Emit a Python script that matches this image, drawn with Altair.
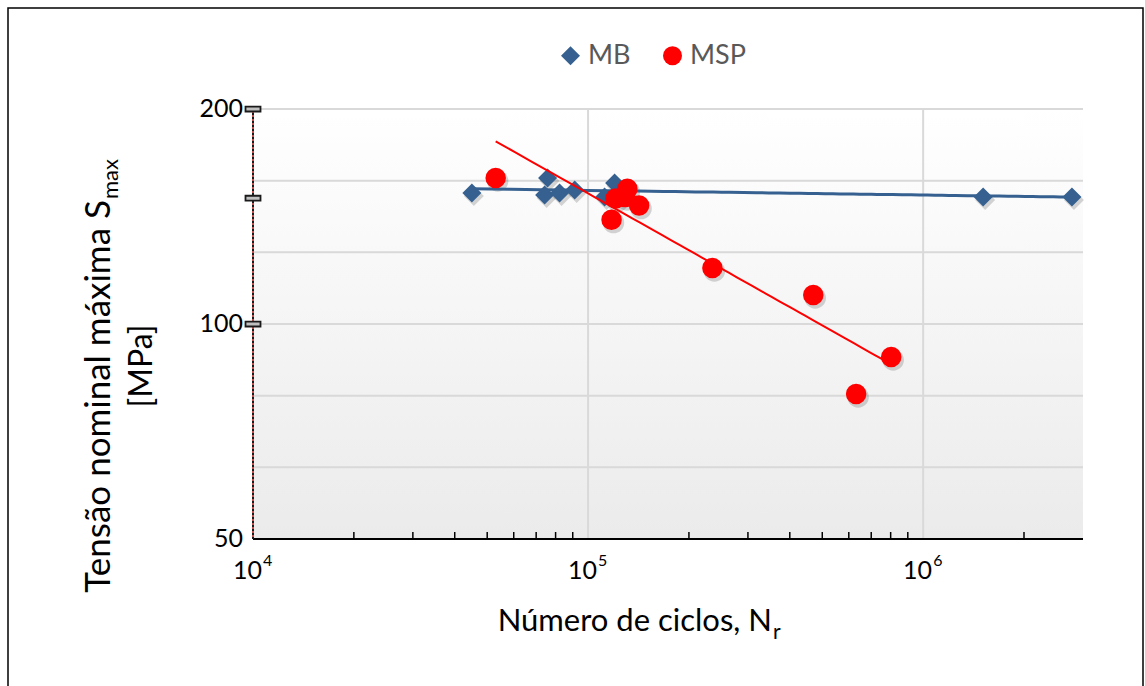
import altair as alt
import pandas as pd

# Ensaios de fadiga: número de ciclos até à rotura e tensão máxima (MPa)
mb_ciclos = [45000, 75700, 74200, 82200, 91200, 120000, 112000, 1510000, 2780000]
mb_tensao = [152.6, 160.1, 151.6, 152.6, 154.0, 157.5, 150.6, 150.6, 150.6]
msp_ciclos = [53000, 117500, 120800, 129000, 131000, 142000, 235000, 470000, 803000, 631000]
msp_tensao = [160.1, 140.0, 149.9, 150.6, 154.6, 146.5, 119.8, 109.8, 89.9, 79.8]

series = ["MB", "MSP"]
series_colors = ["#35608f", "#ff0000"]
series_shapes = ["diamond", "circle"]

# Eixos
x_domain = [1e4, 3e6]
y_domain = [50, 200]
y_grid = [50, 63.0, 79.37, 100, 125.99, 158.74, 200]
y_labels = [50, 100, 200]
y_marks = [100, 150, 200]
x_grid = [1e5, 1e6]
x_minor = [2e4, 3e4, 4e4, 5e4, 6e4, 7e4, 8e4, 9e4,
           2e5, 3e5, 4e5, 5e5, 6e5, 7e5, 8e5, 9e5, 2e6]
decades = [1e4, 1e5, 1e6]
exponents = ["4", "5", "6"]

FONT = "Lato"
W, H = 830, 430
LEFT, TOP = 253, 109

df = pd.DataFrame({
    "N": mb_ciclos + msp_ciclos,
    "S": mb_tensao + msp_tensao,
    "serie": ["MB"] * len(mb_ciclos) + ["MSP"] * len(msp_ciclos),
})

xs = alt.Scale(type="log", domain=x_domain, nice=False)
ys = alt.Scale(type="log", domain=y_domain, nice=False)
X = alt.X("N:Q", scale=xs, axis=None)
Y = alt.Y("S:Q", scale=ys, axis=None)
one = pd.DataFrame({"k": [0]})

# Fundo da área do gráfico em gradiente
background = alt.Chart(one).mark_rect(
    color=alt.Gradient(
        gradient="linear",
        stops=[alt.GradientStop(color="#ffffff", offset=0),
               alt.GradientStop(color="#ebebeb", offset=1)],
        x1=0, x2=0, y1=0, y2=1,
    )
).encode(x=alt.value(0), x2=alt.value(W), y=alt.value(0), y2=alt.value(H))

hgrid = alt.Chart(pd.DataFrame({"S": y_grid})).mark_rule(
    color="#d9d9d9", strokeWidth=2
).encode(y=Y, x=alt.value(0), x2=alt.value(W))

vgrid = alt.Chart(pd.DataFrame({"N": x_grid})).mark_rule(
    color="#d9d9d9", strokeWidth=2
).encode(x=X, y=alt.value(0), y2=alt.value(H))

x_line = alt.Chart(one).mark_rule(color="#000000", strokeWidth=2).encode(
    x=alt.value(0), x2=alt.value(W), y=alt.value(H))

minor = alt.Chart(pd.DataFrame({"N": x_minor})).mark_rule(
    color="#000000", strokeWidth=1.5
).encode(x=X, y=alt.value(H - 7), y2=alt.value(H))

y_line_red = alt.Chart(one).mark_rule(color="#c0504d", strokeWidth=2).encode(
    x=alt.value(0), y=alt.value(0), y2=alt.value(H))
y_line_dash = alt.Chart(one).mark_rule(
    color="#1a1a1a", strokeWidth=2, strokeDash=[2, 2]
).encode(x=alt.value(0), y=alt.value(0), y2=alt.value(H))

y_blocks = alt.Chart(pd.DataFrame({"S": y_marks})).mark_point(
    shape="M-1,-0.33L1,-0.33L1,0.33L-1,0.33Z",
    filled=True, fill="#bfbfbf", stroke="#1a1a1a", strokeWidth=1.8,
    size=225, opacity=1,
).encode(y=Y, x=alt.value(0))

y_text = alt.Chart(pd.DataFrame({"S": y_labels})).mark_text(
    align="right", baseline="middle", font=FONT, fontSize=25, color="#000000", dx=-10
).encode(y=Y, x=alt.value(0), text=alt.Text("S:Q", format="d"))

dec_df = pd.DataFrame({"N": decades, "exp": exponents, "base": ["10"] * 3})
x_text = alt.Chart(dec_df).mark_text(
    align="right", baseline="alphabetic", font=FONT, fontSize=25, color="#000000", dx=9
).encode(x=X, y=alt.value(H + 40), text="base:N")
x_exp = alt.Chart(dec_df).mark_text(
    align="left", baseline="alphabetic", font=FONT, fontSize=16, color="#000000", dx=10
).encode(x=X, y=alt.value(H + 27), text="exp:N")


def shadow(name, shape, size):
    return alt.Chart(df).transform_filter(alt.datum.serie == name).mark_point(
        shape=shape, filled=True, color="#000000", opacity=0.16, size=size,
        xOffset=2, yOffset=3, strokeWidth=0,
    ).encode(x=X, y=Y)


def points(name, size):
    return alt.Chart(df).transform_filter(alt.datum.serie == name).mark_point(
        filled=True, opacity=1, size=size, strokeWidth=0
    ).encode(
        x=X, y=Y,
        color=alt.Color("serie:N", scale=alt.Scale(domain=series, range=series_colors),
                        legend=alt.Legend(
                            title=None, orient="none", direction="horizontal",
                            legendX=304, legendY=-67, padding=0,
                            labelFont=FONT, labelFontSize=27, labelColor="#595959",
                            symbolSize=360, symbolStrokeWidth=0, symbolOpacity=1,
                            labelOffset=4, columnPadding=28,
                        )),
        shape=alt.Shape("serie:N", scale=alt.Scale(domain=series, range=series_shapes)),
    )


def trend(name, color, width):
    return alt.Chart(df).transform_filter(alt.datum.serie == name).transform_regression(
        "N", "S", method="pow"
    ).mark_line(color=color, strokeWidth=width).encode(x=X, y=Y)


frame = alt.Chart(one).mark_rect(
    fillOpacity=0, stroke="#000000", strokeWidth=1.5
).encode(x=alt.value(8 - LEFT), x2=alt.value(1143 - LEFT),
         y=alt.value(8 - TOP), y2=alt.value(700 - TOP))

x_title = alt.Chart(one).mark_text(
    align="right", baseline="alphabetic", font=FONT, fontSize=31, color="#000000"
).encode(x=alt.value(772 - LEFT), y=alt.value(631 - TOP), text=alt.value("Número de ciclos, N"))
x_title_sub = alt.Chart(one).mark_text(
    align="left", baseline="alphabetic", font=FONT, fontSize=21, color="#000000"
).encode(x=alt.value(773 - LEFT), y=alt.value(639 - TOP), text=alt.value("r"))

y_title = alt.Chart(one).mark_text(
    align="right", baseline="alphabetic", font=FONT, fontSize=35, color="#000000", angle=270
).encode(x=alt.value(110 - LEFT), y=alt.value(200 - TOP), text=alt.value("Tensão nominal máxima S"))
y_title_sub = alt.Chart(one).mark_text(
    align="left", baseline="alphabetic", font=FONT, fontSize=22, color="#000000", angle=270
).encode(x=alt.value(118 - LEFT), y=alt.value(199 - TOP), text=alt.value("max"))
y_title2 = alt.Chart(one).mark_text(
    align="center", baseline="alphabetic", font=FONT, fontSize=32, color="#000000", angle=270
).encode(x=alt.value(152 - LEFT), y=alt.value(366 - TOP), text=alt.value("[MPa]"))

chart = alt.layer(
    background, hgrid, vgrid, x_line, minor, y_line_red, y_line_dash, y_blocks,
    y_text, x_text, x_exp,
    shadow("MB", "diamond", 400), shadow("MSP", "circle", 460),
    trend("MB", "#35608f", 3), points("MB", 361), points("MSP", 420), trend("MSP", "#ff0000", 2),
    frame, x_title, x_title_sub, y_title, y_title_sub, y_title2,
).properties(
    width=W, height=H,
    autosize=alt.AutoSizeParams(type="none"),
    padding={"left": LEFT, "top": TOP, "right": 1145 - LEFT - W, "bottom": 686 - TOP - H},
    background="#ffffff",
).configure_view(stroke=None)

chart.save("out.html", embed_options={"renderer": "svg", "actions": False})
